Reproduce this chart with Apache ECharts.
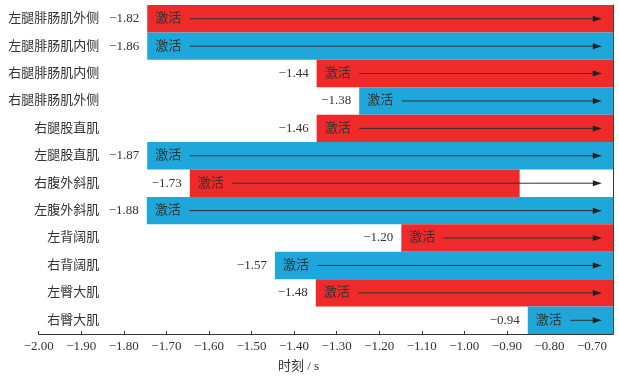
<!DOCTYPE html>
<html>
<head>
<meta charset="utf-8">
<script src="https://cdn.jsdelivr.net/npm/echarts@6/dist/echarts.min.js"></script>
<style>
  html, body { margin: 0; padding: 0; background: #fff; }
  #chart-container { width: 619px; height: 377px; }
</style>
</head>
<body>
<div id="chart-container"></div>
<script>
var dom = document.getElementById("chart-container");
var myChart = echarts.init(dom, null, { renderer: "canvas" });

// muscles, top to bottom
var muscles = [
  "左腿腓肠肌外侧", "左腿腓肠肌内侧", "右腿腓肠肌内侧", "右腿腓肠肌外侧",
  "右腿股直肌", "左腿股直肌", "右腹外斜肌", "左腹外斜肌",
  "左背阔肌", "右背阔肌", "左臀大肌", "右臀大肌"
];
// printed onset times
var onsetLabels = [-1.82, -1.86, -1.44, -1.38, -1.46, -1.87, -1.73, -1.88, -1.20, -1.57, -1.48, -0.94];
// where each bar starts / ends on the time axis
var barStart = [-1.745, -1.745, -1.347, -1.247, -1.347, -1.745, -1.645, -1.746, -1.148, -1.445, -1.349, -0.851];
var barEnd = [-0.65, -0.65, -0.65, -0.65, -0.65, -0.65, -0.87, -0.65, -0.65, -0.65, -0.65, -0.65];
var arrowTip = -0.677;
var colors = ["#ee2a2a", "#1fa7dc"];

var fontFam = "'Liberation Serif', 'Noto Sans CJK SC', serif";

function fmt(v) {
  return (v < 0 ? "\u2212" : "") + Math.abs(v).toFixed(2);
}

var data = muscles.map(function (m, i) {
  return [i, barStart[i], barEnd[i], onsetLabels[i], i % 2];
});

function renderItem(params, api) {
  var cat = api.value(0);
  var s = api.value(1), e = api.value(2), lab = api.value(3), ci = api.value(4);
  var p0 = api.coord([s, cat]);
  var p1 = api.coord([e, cat]);
  var h = api.size([0, 1])[1];
  var a0 = api.coord([s + 0.1, cat]);
  var a1 = api.coord([arrowTip, cat]);
  var y = p0[1];
  return {
    type: "group",
    children: [
      {
        type: "rect",
        shape: { x: p0[0], y: y - h / 2, width: p1[0] - p0[0], height: h },
        style: { fill: colors[ci] }
      },
      {
        type: "text",
        style: {
          x: p0[0] + 8, y: y, text: "激活", fill: "#333",
          font: "13px " + fontFam, verticalAlign: "middle", align: "left"
        }
      },
      {
        type: "text",
        style: {
          x: p0[0] - 8, y: y, text: fmt(lab), fill: "#333",
          font: "13px " + fontFam, verticalAlign: "middle", align: "right"
        }
      },
      {
        type: "line",
        shape: { x1: a0[0], y1: y, x2: a1[0] - 7, y2: y },
        style: { stroke: "#333", lineWidth: 1 }
      },
      {
        type: "polygon",
        shape: { points: [[a1[0], y], [a1[0] - 9, y - 3], [a1[0] - 9, y + 3]] },
        style: { fill: "#222" }
      }
    ]
  };
}

var option = {
  animation: false,
  textStyle: { fontFamily: fontFam },
  grid: { left: 38.7, right: 5.7, top: 5, bottom: 43 },
  xAxis: {
    type: "value",
    min: -2,
    max: -0.65,
    interval: 0.1,
    splitLine: { show: false },
    axisLine: { show: true, lineStyle: { color: "#333", width: 1 } },
    axisTick: { show: true, inside: true, length: 3, lineStyle: { color: "#333" } },
    axisLabel: {
      color: "#333", fontSize: 13, margin: 6, showMaxLabel: false,
      formatter: function (v) { return fmt(v); }
    }
  },
  yAxis: [
    {
      type: "category",
      inverse: true,
      data: muscles,
      axisLine: { show: false },
      axisTick: { show: false },
      axisLabel: { color: "#333", fontSize: 13, margin: -60.5 }
    },
    {
      type: "value",
      position: "right",
      axisLine: { show: true, lineStyle: { color: "#333", width: 1 } },
      axisTick: { show: false },
      axisLabel: { show: false },
      splitLine: { show: false }
    }
  ],
  graphic: [
    {
      type: "text",
      left: 278, top: 360,
      style: { text: "时刻 / s", fill: "#333", font: "13px " + fontFam }
    }
  ],
  series: [
    {
      type: "custom",
      renderItem: renderItem,
      encode: { x: [1, 2], y: 0 },
      data: data
    }
  ]
};

myChart.setOption(option);
window.addEventListener("resize", myChart.resize);
</script>
</body>
</html>
